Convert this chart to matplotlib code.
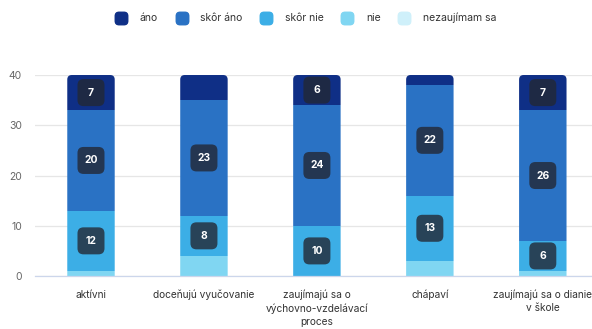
import matplotlib
matplotlib.use("Agg")
import matplotlib.pyplot as plt
from matplotlib.patches import FancyBboxPatch, BoxStyle
from matplotlib.lines import Line2D
from matplotlib.transforms import ScaledTranslation
import numpy as np

plt.rcParams['font.family'] = ['Inter', 'DejaVu Sans']

categories = [
    "aktívni",
    "doceňujú vyučovanie",
    "zaujímajú sa o\nvýchovno-vzdelávací\nproces",
    "chápaví",
    "zaujímajú sa o dianie\nv škole",
]
series_names = ["áno", "skôr áno", "skôr nie", "nie", "nezaujímam sa"]
ano = [7, 5, 6, 2, 7]
skor_ano = [20, 23, 24, 22, 26]
skor_nie = [12, 8, 10, 13, 6]
nie = [1, 4, 0, 3, 1]
nezaujimam = [0, 0, 0, 0, 0]
yticks = [0, 10, 20, 30, 40]

colors = ["#0f2f86", "#2a72c4", "#3caee6", "#80d6f2", "#cff0fa"]
values = [ano, skor_ano, skor_nie, nie, nezaujimam]

fig = plt.figure(figsize=(5.92, 3.29), dpi=100)
ax = fig.add_axes([0.0583, 0.161, 0.954, 0.611])

x = np.arange(len(categories))
bar_w = 0.42

# stack from the bottom: last series first
stack_order = list(range(len(series_names)))[::-1]
bottoms = np.zeros(len(categories))
segments = []
rects_by_cat = [[] for _ in categories]
for si in stack_order:
    vals = np.array(values[si], dtype=float)
    bars = ax.bar(x, vals, bar_w, bottom=bottoms, color=colors[si],
                  linewidth=0, zorder=2)
    for ci, r in enumerate(bars):
        rects_by_cat[ci].append(r)
        segments.append((ci, bottoms[ci], vals[ci]))
    bottoms = bottoms + vals

ax.set_xlim(-0.5, len(categories) - 0.5)
ax.set_ylim(0, 40)

# rounded top corners for each stacked column
fig.canvas.draw()
px_per_x = ax.transData.transform((1, 0))[0] - ax.transData.transform((0, 0))[0]
px_per_y = ax.transData.transform((0, 1))[1] - ax.transData.transform((0, 0))[1]
aspect = px_per_x / px_per_y
radius_px = 4.5
for ci in range(len(categories)):
    clip = FancyBboxPatch((x[ci] - bar_w / 2, -5), bar_w, bottoms[ci] + 5,
                          boxstyle=BoxStyle.Round(pad=0, rounding_size=radius_px / px_per_x),
                          mutation_aspect=aspect, transform=ax.transData)
    for r in rects_by_cat[ci]:
        r.set_clip_path(clip)

# value badges
for ci, b0, v in segments:
    if v > 5:
        yc = b0 + v / 2
        tr = fig.dpi_scale_trans + ScaledTranslation(x[ci], yc, ax.transData)
        box = FancyBboxPatch((-0.135, -0.135), 0.27, 0.27,
                             boxstyle=BoxStyle.Round(pad=0, rounding_size=0.06),
                             transform=tr, facecolor="#232834", alpha=0.8,
                             edgecolor="none", zorder=3, clip_on=False)
        ax.add_patch(box)
        ax.text(x[ci], yc, f"{int(v)}", ha="center", va="center",
                color="white", fontsize=7.4, fontweight="bold", zorder=4)

ax.set_yticks(yticks)
ax.set_yticklabels([str(t) for t in yticks])
ax.set_xticks(x)
ax.set_xticklabels(categories, fontsize=7.3, color="#333333", linespacing=1.38)
ax.tick_params(axis="y", length=0, pad=9, labelsize=7.5, labelcolor="#666666")
ax.tick_params(axis="x", length=0, pad=10)
ax.grid(axis="y", color="#e6e6e6", linewidth=0.9, zorder=0)
ax.set_axisbelow(True)
for s in ["top", "right", "left"]:
    ax.spines[s].set_visible(False)
ax.spines["bottom"].set_color("#ccd6eb")
ax.spines["bottom"].set_linewidth(0.9)
ax.spines["bottom"].set_zorder(5)

# legend with rounded-square markers
marker_path = BoxStyle.Round(pad=0, rounding_size=0.3)(-0.5, -0.5, 1, 1, 1.0)
handles = [Line2D([], [], linestyle="none", marker=marker_path, markersize=9,
                  markerfacecolor=c, markeredgecolor=c) for c in colors]
fig.legend(handles, series_names, loc="center", bbox_to_anchor=(0.517, 0.945),
           ncol=5, frameon=False, fontsize=7.5, labelcolor="#333333",
           handletextpad=1.3, columnspacing=1.75, handlelength=1.0)

fig.savefig("out.png", dpi=100)
